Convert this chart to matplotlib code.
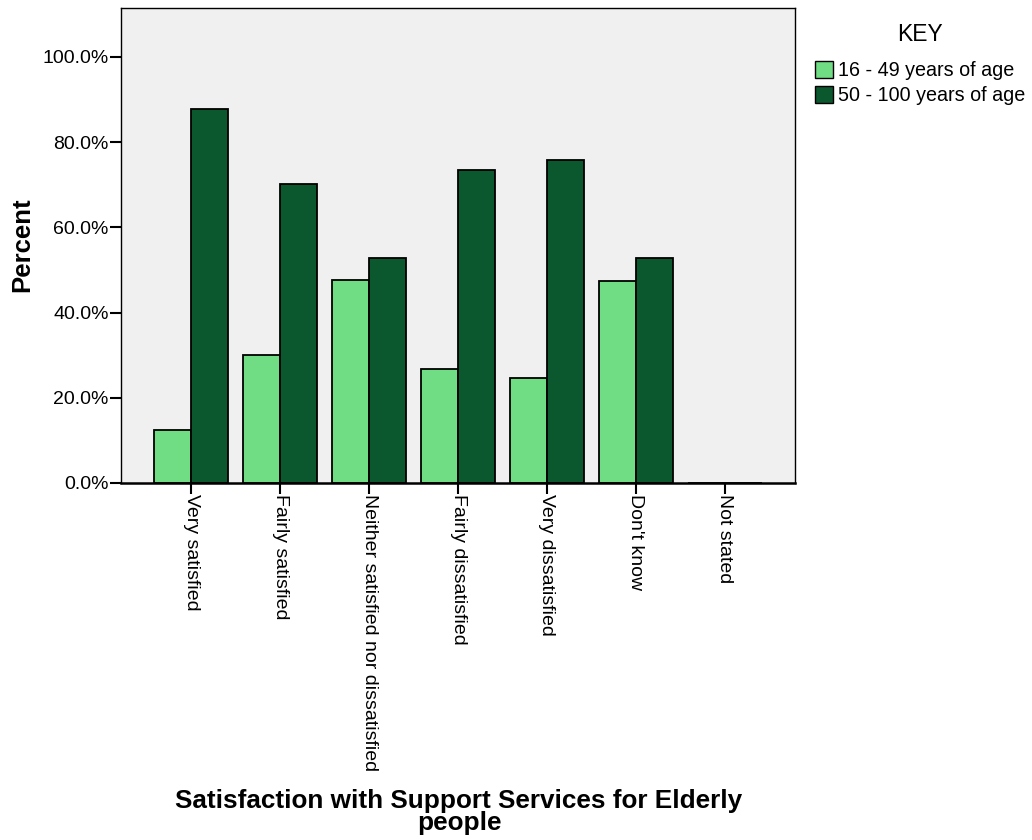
import matplotlib
matplotlib.use("Agg")
import matplotlib.pyplot as plt
import numpy as np
from matplotlib.patches import Patch

categories = ["Very satisfied", "Fairly satisfied", "Neither satisfied nor dissatisfied",
              "Fairly dissatisfied", "Very dissatisfied", "Don't know", "Not stated"]
young = [12.4, 30.0, 47.6, 26.8, 24.6, 47.4, 0.0]
old = [87.9, 70.2, 52.8, 73.5, 75.8, 52.8, 0.0]
series_names = ["16 - 49 years of age", "50 - 100 years of age"]
yticks = [0, 20, 40, 60, 80, 100]

plt.rcParams['font.family'] = ['Liberation Sans', 'DejaVu Sans']

fig = plt.figure(figsize=(10.32, 8.4), dpi=100)
ax = fig.add_axes([121/1032, 1-483/840, (795-121)/1032, (483-8)/840])
ax.set_facecolor("#F0F0F0")

x = np.arange(len(categories))
w = 0.415
light = "#70DC84"
dark = "#0B572E"
ax.bar(x - w/2, young, w, color=light, edgecolor="black", linewidth=1.3)
ax.bar(x + w/2, old, w, color=dark, edgecolor="black", linewidth=1.3)

ax.set_xlim(-0.79, len(categories) - 1 + 0.79)
ax.set_ylim(0, 111.5)
ax.set_yticks(yticks)
ax.set_yticklabels([f"{v:.1f}%" for v in yticks], fontsize=14)
ax.set_xticks(x)
ax.set_xticklabels(categories, rotation=270, fontsize=14, va="top", ha="center")
ax.tick_params(axis="both", direction="out", length=8, width=1.5, color="black")
ax.tick_params(axis="y", pad=1)
ax.tick_params(axis="x", pad=0)
for s in ax.spines.values():
    s.set_linewidth(1.0)
ax.spines["bottom"].set_linewidth(1.8)

fig.text(22/1032, 1-245/840, "Percent", rotation=90, ha="center", va="center",
         fontsize=18.5, fontweight="bold")
fig.text(459/1032, 1-812/840, "Satisfaction with Support Services for Elderly\npeople",
         ha="center", va="center", fontsize=18.8, fontweight="bold", linespacing=0.9)

handles = [Patch(facecolor=light, edgecolor="black"), Patch(facecolor=dark, edgecolor="black")]
leg = fig.legend(handles, series_names, title="KEY", loc="upper left",
                 bbox_to_anchor=(815/1032, 1-23/840), frameon=False, fontsize=14.2,
                 title_fontsize=16.5, handlelength=0.9, handleheight=0.9,
                 handletextpad=0.25, labelspacing=0.3, borderaxespad=0, borderpad=0)
leg._legend_box.align = "center"
leg._legend_box.sep = 11

fig.savefig("out.png", dpi=100)
